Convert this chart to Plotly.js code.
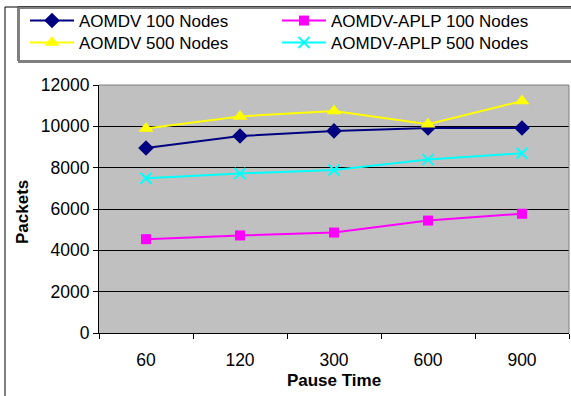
<!DOCTYPE html>
<html>
<head>
<meta charset="utf-8">
<script src="https://cdn.plot.ly/plotly-3.0.1.min.js"></script>
<style>
  html, body { margin: 0; padding: 0; background: #fff; }
  #chart { width: 571px; height: 396px; }
</style>
</head>
<body>
<div id="chart"></div>
<script>
// Pause time categories (seconds)
const pauseTimes = ['60', '120', '300', '600', '900'];

// Packets delivered per protocol / network size
const aomdv100 = [8950, 9530, 9780, 9920, 9920];
const aplp100  = [4540, 4720, 4860, 5440, 5770];
const aomdv500 = [9900, 10480, 10740, 10100, 11220];
const aplp500  = [7490, 7720, 7890, 8390, 8700];

const seriesNames = [
  'AOMDV 100 Nodes',
  'AOMDV-APLP 100 Nodes',
  'AOMDV 500 Nodes',
  'AOMDV-APLP 500 Nodes'
];
const yTitle = 'Packets';
const xTitle = 'Pause Time';

const FONT = 'Arial, "Liberation Sans", sans-serif';

// Plot area in pixels, used to place the frame shapes in paper units
const W = 571, H = 396;
const M = { l: 99, r: 2, t: 85, b: 63, autoexpand: false };
const pw = W - M.l - M.r, ph = H - M.t - M.b;
const px = v => (v - M.l) / pw;
const py = v => (H - M.b - v) / ph;

const traces = [
  {
    x: pauseTimes, y: aomdv100, name: seriesNames[0], mode: 'lines+markers',
    legend: 'legend',
    line: { color: '#000080', width: 2 },
    marker: { symbol: 'diamond', size: 12, color: '#000080' }
  },
  {
    x: pauseTimes, y: aplp100, name: seriesNames[1], mode: 'lines+markers',
    legend: 'legend2',
    line: { color: '#FF00FF', width: 2 },
    marker: { symbol: 'square', size: 10, color: '#FF00FF' }
  },
  {
    x: pauseTimes, y: aomdv500, name: seriesNames[2], mode: 'lines+markers',
    legend: 'legend3',
    line: { color: '#FFFF00', width: 2 },
    marker: { symbol: 'triangle-up', size: 13, color: '#FFFF00' }
  },
  {
    x: pauseTimes, y: aplp500, name: seriesNames[3], mode: 'lines+markers',
    legend: 'legend4',
    line: { color: '#00FFFF', width: 2 },
    marker: { symbol: 'x-thin', size: 11, color: '#00FFFF', line: { color: '#00FFFF', width: 2 } }
  }
];

// One single-entry legend per series, laid out as a 2x2 grid
const legendBase = {
  orientation: 'v',
  xref: 'container', yref: 'container',
  xanchor: 'left', yanchor: 'middle',
  itemwidth: 44,
  bgcolor: 'rgba(0,0,0,0)',
  borderwidth: 0,
  font: { family: FONT, size: 17, color: '#000' },
  tracegroupgap: 0
};
const legendAt = (xPix, yPix) =>
  Object.assign({}, legendBase, { x: xPix / W, y: 1 - yPix / H });

const layout = {
  width: W, height: H,
  margin: M,
  paper_bgcolor: '#FFFFFF',
  plot_bgcolor: '#C0C0C0',
  font: { family: FONT, size: 17.5, color: '#000' },
  showlegend: true,
  legend:  legendAt(25, 21),
  legend2: legendAt(277, 21),
  legend3: legendAt(25, 43),
  legend4: legendAt(277, 43),
  xaxis: {
    type: 'category',
    range: [-0.5, 4.5],
    tickson: 'boundaries',
    ticks: 'outside', ticklen: 5, tickcolor: '#000', tickwidth: 1,
    ticklabelstandoff: 11,
    showgrid: false,
    showline: true, linecolor: '#000', linewidth: 1,
    tickfont: { family: FONT, size: 17.5 },
    title: { text: '<b>' + xTitle + '</b>', font: { family: FONT, size: 17 }, standoff: 5 },
    zeroline: false,
    fixedrange: true
  },
  yaxis: {
    range: [0, 12000],
    dtick: 2000,
    tickformat: 'd',
    ticks: 'outside', ticklen: 5, tickcolor: '#000', tickwidth: 1,
    showgrid: true, gridcolor: '#000000', gridwidth: 1,
    showline: true, linecolor: '#000', linewidth: 1,
    zeroline: false,
    tickfont: { family: FONT, size: 17.5 },
    fixedrange: true
  },
  annotations: [
    // vertical y-axis title beside the tick labels
    { text: '<b>' + yTitle + '</b>', textangle: -90, showarrow: false,
      xref: 'paper', yref: 'paper', x: px(22), y: py(212),
      xanchor: 'center', yanchor: 'middle',
      font: { family: FONT, size: 17, color: '#000' } }
  ],
  shapes: [
    // gray top and right edges of the plot area
    { type: 'line', xref: 'paper', yref: 'paper', x0: 0, x1: 1, y0: 1, y1: 1,
      line: { color: '#808080', width: 1 } },
    { type: 'line', xref: 'paper', yref: 'paper', x0: 1, x1: 1, y0: 0, y1: 1,
      line: { color: '#808080', width: 1 } },
    // outer chart frame (left and top)
    { type: 'line', xref: 'paper', yref: 'paper', x0: px(5), x1: px(5), y0: py(7), y1: py(400),
      line: { color: '#000', width: 1 } },
    { type: 'line', xref: 'paper', yref: 'paper', x0: px(5), x1: px(575), y0: py(7), y1: py(7),
      line: { color: '#000', width: 1 } },
    // legend box with its shadow
    { type: 'rect', xref: 'paper', yref: 'paper', x0: px(19), x1: px(580), y0: py(62), y1: py(8),
      line: { color: '#808080', width: 2 }, fillcolor: 'rgba(0,0,0,0)' },
    { type: 'rect', xref: 'paper', yref: 'paper', x0: px(18), x1: px(580), y0: py(61), y1: py(7),
      line: { color: '#000', width: 1 }, fillcolor: '#FFFFFF', layer: 'below' }
  ]
};

Plotly.newPlot('chart', traces, layout, { staticPlot: true, displayModeBar: false });
</script>
</body>
</html>
